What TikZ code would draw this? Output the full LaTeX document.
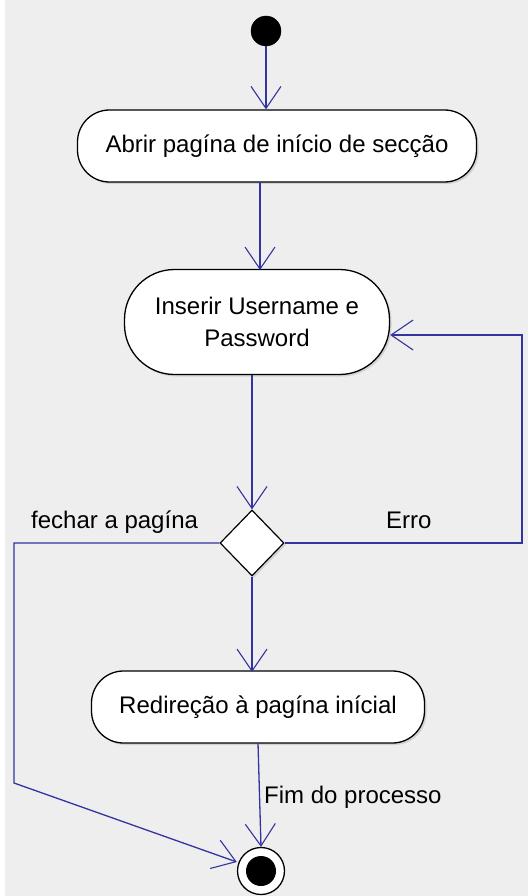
\documentclass[tikz,border=0pt]{standalone}
\usepackage{fontspec}
\setmainfont{Liberation Sans}
\usetikzlibrary{arrows.meta,shapes.geometric,shadows}
\definecolor{bgray}{RGB}{238,238,238}
\definecolor{flow}{RGB}{52,52,160}
\tikzset{
  x=1pt,y=-1pt,
  act/.style={draw=black,line width=1.3pt,fill=white,rounded corners=32pt,
    minimum height=72pt,align=center,font=\fontsize{24}{32}\selectfont,
    drop shadow={opacity=0.25,shadow xshift=2pt,shadow yshift=-2pt}},
  dec/.style={draw=black,line width=1.2pt,fill=white,diamond,minimum width=64pt,minimum height=66pt,inner sep=0pt,
    drop shadow={opacity=0.25,shadow xshift=2pt,shadow yshift=-2pt}},
  flowline/.style={draw=flow,line width=1.3pt,-{Straight Barb[length=22pt,width=30pt,line width=1.1pt]}},
  lbl/.style={font=\fontsize{24}{28}\selectfont,inner sep=0pt}
}
\begin{document}
\begin{tikzpicture}
\useasboundingbox (0,0) rectangle (528,896);
\fill[white] (0,0) rectangle (528,896);
\fill[bgray] (5,0) rectangle (528,896);
% start
\node[circle,fill=black,draw=black,minimum size=30pt,inner sep=0pt] (start) at (266,31) {};
% activities
\node[act,minimum width=399pt] (a1) at (277,146) {Abrir pagína de início de secção};
\node[act,minimum width=265pt,minimum height=105pt,rounded corners=50pt] (a2) at (257,322) {Inserir Username e\\Password};
\node[dec] (d) at (252,543) {};
\node[act,minimum width=333pt] (a3) at (258,707) {Redireção à pagína inícial};
% end
\node[circle,draw=black,line width=1.3pt,fill=white,minimum size=47pt,inner sep=0pt] (end) at (261,871) {};
\node[circle,fill=black,minimum size=30pt,inner sep=0pt] (endin) at (end.center) {};
% connectors
\draw[flowline] (start.south) -- (start.south |- a1.north);
\draw[flowline] (260,182) -- (260,270);
\draw[flowline] (252,375) -- (d.north);
\coordinate (er1) at (522,543);
\coordinate (er2) at (522,335);
\draw[flowline] (d.east) -- (er1) -- (er2) -- (a2.east |- er2);
\coordinate (fp1) at (14,543);
\coordinate (fp2) at (14,783);
\draw[flowline] (d.west) -- (fp1) -- (fp2) -- (end.west |- 0,862);
\draw[flowline] (d.south) -- (252,672);
\draw[flowline] (258,743) -- (end.north);
% labels
\node[lbl,anchor=base west] (lerro) at (386,528) {Erro};
\node[lbl,anchor=base west] (lfech) at (31,528) {fechar a pagína};
\node[lbl,anchor=base west] (lfim) at (264,803) {Fim do processo};
\end{tikzpicture}
\end{document}
